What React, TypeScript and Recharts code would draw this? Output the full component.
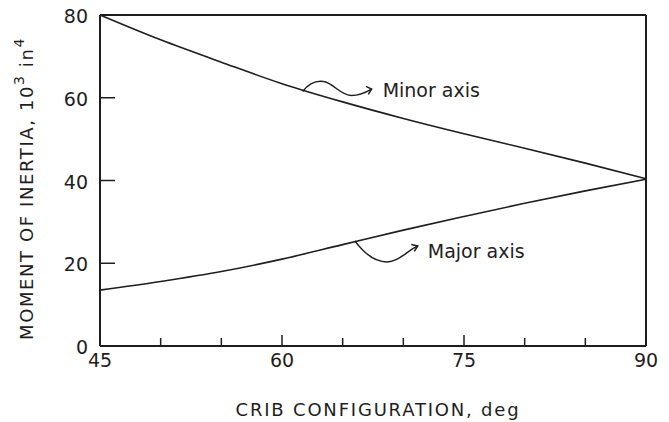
import React from "react";
import { LineChart, Line, XAxis, YAxis, ReferenceDot } from "recharts";

// crib angle (deg) and moments of inertia (10^3 in^4)
const degrees = [45, 50, 55, 60, 65, 70, 75, 80, 85, 90];
const minorAxis = [80, 74.0, 68.6, 63.4, 59.0, 55.0, 51.3, 47.8, 44.2, 40.4];
const majorAxis = [13.5, 15.6, 18.0, 21.0, 24.5, 28.0, 31.3, 34.5, 37.5, 40.3];

const xTicks = [45, 50, 55, 60, 65, 70, 75, 80, 85, 90];
const xTickLabels = [45, 60, 75, 90];
const yTicks = [0, 20, 40, 60, 80];

const data = degrees.map((d, i) => ({ deg: d, minor: minorAxis[i], major: majorAxis[i] }));

const INK = "#1e1e1e";
const FONT = "'DejaVu Sans', sans-serif";

const BottomTick = (props: any) => {
  const { x, y, payload } = props;
  const major = xTickLabels.includes(payload.value);
  return (
    <g>
      <line x1={x} y1={y} x2={x} y2={y - (major ? 11 : 8)} stroke={INK} strokeWidth={1.5} />
      {major && (
        <text x={x} y={y + 21} textAnchor="middle" fontSize={19} fill={INK} fontFamily={FONT}>
          {payload.value}
        </text>
      )}
    </g>
  );
};

const TopTick = (props: any) => {
  const { x, y, payload } = props;
  const major = xTickLabels.includes(payload.value);
  return <line x1={x} y1={y} x2={x} y2={y + (major ? 13 : 8)} stroke={INK} strokeWidth={1.5} />;
};

const LeftTick = (props: any) => {
  const { x, y, payload } = props;
  return (
    <g>
      <line x1={x} y1={y} x2={x + 15} y2={y} stroke={INK} strokeWidth={1.5} />
      <text x={x - 12} y={y + 8} textAnchor="end" fontSize={19} fill={INK} fontFamily={FONT}>
        {payload.value}
      </text>
    </g>
  );
};

const RightTick = (props: any) => {
  const { x, y } = props;
  return <line x1={x} y1={y} x2={x - 13} y2={y} stroke={INK} strokeWidth={1.5} />;
};

const YTitle = (props: any) => {
  const vb = props.viewBox;
  const cx = vb.x + vb.width - 67;
  const cy = vb.y + vb.height / 2 + 8;
  return (
    <text
      x={cx}
      y={cy}
      transform={`rotate(-90 ${cx} ${cy})`}
      textAnchor="middle"
      fontSize={18}
      letterSpacing={1.6}
      fill={INK}
      fontFamily={FONT}
    >
      MOMENT OF INERTIA, 10
      <tspan dy={-9} fontSize={14}>3</tspan>
      <tspan dy={9}> in</tspan>
      <tspan dy={-9} fontSize={14}>4</tspan>
    </text>
  );
};

const XTitle = (props: any) => {
  const vb = props.viewBox;
  return (
    <text
      x={vb.x + vb.width / 2 + 5}
      y={vb.y + 70}
      textAnchor="middle"
      fontSize={18}
      letterSpacing={1.8}
      fill={INK}
      fontFamily={FONT}
    >
      CRIB CONFIGURATION, deg
    </text>
  );
};

const MinorNote = (props: any) => {
  const { cx, cy } = props;
  return (
    <g transform={`translate(${cx} ${cy})`} fill="none" stroke={INK} strokeWidth={1.5}>
      <path d="M0 0 C6 -8, 14 -11, 21 -10 C30 -9, 38 4, 49 4 C57 4, 63 1, 69 -2.4" />
      <path d="M63.3 -5.2 L69 -2.4 L65.7 2.8" />
      <text x={80} y={5.3} fontSize={19} fill={INK} stroke="none" fontFamily={FONT}>
        Minor axis
      </text>
    </g>
  );
};

const MajorNote = (props: any) => {
  const { cx, cy } = props;
  return (
    <g transform={`translate(${cx} ${cy})`} fill="none" stroke={INK} strokeWidth={1.5}>
      <path d="M0 0 C6 8, 18 21, 32 21 C44 21, 52 10, 63 5" />
      <path d="M56.5 3.5 L63 5 L59.5 10.5" />
      <text x={73} y={16.6} fontSize={19} fill={INK} stroke="none" fontFamily={FONT}>
        Major axis
      </text>
    </g>
  );
};

export default function App() {
  return (
    <div style={{ position: "absolute", left: 0, top: 0, background: "#fff" }}>
      <LineChart
        width={669}
        height={422}
        data={data}
        margin={{ top: 14, right: 22, left: 99, bottom: 75 }}
        style={{ fontFamily: FONT }}
      >
        <XAxis
          dataKey="deg"
          type="number"
          domain={[45, 90]}
          ticks={xTicks}
          height={1}
          tickSize={0}
          tickMargin={0}
          tickLine={false}
          tick={<BottomTick />}
          axisLine={{ stroke: INK, strokeWidth: 2 }}
          label={<XTitle />}
          interval={0}
        />
        <XAxis
          xAxisId="top"
          orientation="top"
          type="number"
          domain={[45, 90]}
          ticks={xTicks}
          height={1}
          tickSize={0}
          tickMargin={0}
          tickLine={false}
          tick={<TopTick />}
          axisLine={{ stroke: INK, strokeWidth: 2 }}
          interval={0}
        />
        <YAxis
          type="number"
          domain={[0, 80]}
          ticks={yTicks}
          width={1}
          tickSize={0}
          tickMargin={0}
          tickLine={false}
          tick={<LeftTick />}
          axisLine={{ stroke: INK, strokeWidth: 2 }}
          label={<YTitle />}
          interval={0}
        />
        <YAxis
          yAxisId="right"
          orientation="right"
          type="number"
          domain={[0, 80]}
          ticks={yTicks}
          width={1}
          tickSize={0}
          tickMargin={0}
          tickLine={false}
          tick={<RightTick />}
          axisLine={{ stroke: INK, strokeWidth: 2 }}
          interval={0}
        />
        <Line
          dataKey="minor"
          type="monotone"
          stroke={INK}
          strokeWidth={1.6}
          dot={false}
          isAnimationActive={false}
        />
        <Line
          dataKey="major"
          type="monotone"
          stroke={INK}
          strokeWidth={1.6}
          dot={false}
          isAnimationActive={false}
        />
        <ReferenceDot x={61.7} y={61.5} r={0} shape={<MinorNote />} />
        <ReferenceDot x={66.0} y={25.4} r={0} shape={<MajorNote />} />
      </LineChart>
    </div>
  );
}
